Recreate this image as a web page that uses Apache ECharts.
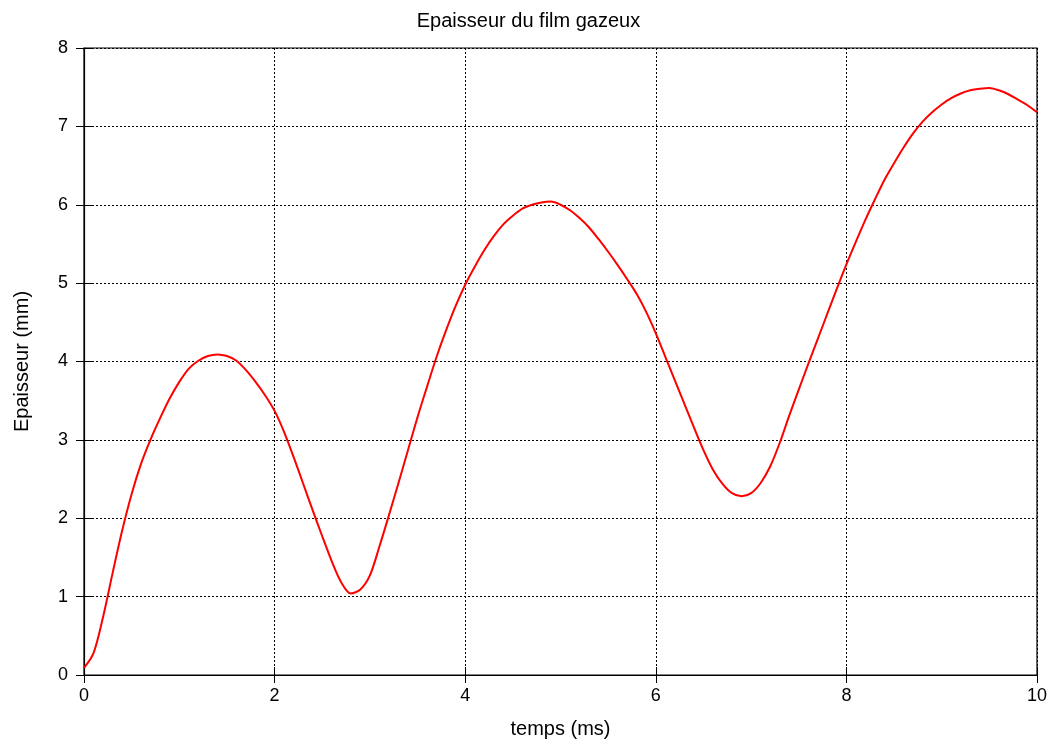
<!DOCTYPE html>
<html>
<head>
<meta charset="utf-8">
<script src="https://cdn.jsdelivr.net/npm/echarts@6/dist/echarts.min.js"></script>
<style>html,body{margin:0;padding:0;background:#fff;}#c{width:1057px;height:744px;}</style>
</head>
<body>
<div id="c"></div>
<script>
const title = "Epaisseur du film gazeux";
const xName = "temps (ms)";
const yName = "Epaisseur (mm)";
const xTicks = [0, 2, 4, 6, 8, 10];
const yTicks = [0, 1, 2, 3, 4, 5, 6, 7, 8];
const tValues = [0.0, 0.1, 0.2, 0.3, 0.4, 0.5, 0.6, 0.7, 0.8, 0.9,
  1.0, 1.1, 1.2, 1.3, 1.4, 1.5, 1.6, 1.7, 1.8, 1.9,
  2.0, 2.1, 2.2, 2.3, 2.4, 2.5, 2.6, 2.7, 2.8, 2.9,
  3.0, 3.1, 3.2, 3.3, 3.4, 3.5, 3.6, 3.7, 3.8, 3.9,
  4.0, 4.1, 4.2, 4.3, 4.4, 4.5, 4.6, 4.7, 4.8, 4.9,
  5.0, 5.1, 5.2, 5.3, 5.4, 5.5, 5.6, 5.7, 5.8, 5.9,
  6.0, 6.1, 6.2, 6.3, 6.4, 6.5, 6.6, 6.7, 6.8, 6.9,
  7.0, 7.1, 7.2, 7.3, 7.4, 7.5, 7.6, 7.7, 7.8, 7.9,
  8.0, 8.1, 8.2, 8.3, 8.4, 8.5, 8.6, 8.7, 8.8, 8.9,
  9.0, 9.1, 9.2, 9.3, 9.4, 9.5, 9.6, 9.7, 9.8, 9.9, 10.0];
const thickness = [0.09, 0.28, 0.74, 1.30, 1.84, 2.31, 2.70, 3.01, 3.28, 3.53,
  3.74, 3.91, 4.01, 4.07, 4.09, 4.07, 4.01, 3.89, 3.74, 3.57,
  3.37, 3.10, 2.78, 2.44, 2.10, 1.77, 1.45, 1.18, 1.04, 1.09,
  1.27, 1.64, 2.04, 2.45, 2.87, 3.29, 3.68, 4.06, 4.40, 4.71,
  4.98, 5.21, 5.42, 5.60, 5.75, 5.86, 5.95, 6.00, 6.03, 6.04,
  6.00, 5.93, 5.83, 5.71, 5.56, 5.40, 5.23, 5.05, 4.86, 4.63,
  4.36, 4.06, 3.76, 3.46, 3.16, 2.87, 2.62, 2.44, 2.32, 2.28,
  2.32, 2.45, 2.66, 2.96, 3.31, 3.64, 3.97, 4.29, 4.61, 4.93,
  5.24, 5.53, 5.81, 6.07, 6.32, 6.53, 6.73, 6.91, 7.06, 7.18,
  7.28, 7.36, 7.42, 7.46, 7.48, 7.49, 7.46, 7.41, 7.34, 7.27, 7.18];

const font = "'Liberation Sans', Arial, sans-serif";
const gridLine = {show: true, lineStyle: {color: '#000', width: 1, type: [2, 2]}};
const chart = echarts.init(document.getElementById('c'), null, {renderer: 'canvas'});
chart.setOption({
  animation: false,
  backgroundColor: '#fff',
  title: {text: title, left: 'center', top: 6, textStyle: {fontFamily: font, fontWeight: 'normal', fontSize: 20, color: '#000'}},
  grid: {left: 84, right: 20, top: 48, bottom: 65, show: true, borderColor: '#000', borderWidth: 1.2},
  xAxis: [{
    type: 'value', min: xTicks[0], max: xTicks[xTicks.length - 1], interval: 2,
    name: xName, nameLocation: 'middle', nameGap: 44,
    nameTextStyle: {fontFamily: font, fontSize: 20, color: '#000'},
    axisLine: {show: true, lineStyle: {color: '#000', width: 1.2}},
    axisTick: {show: true, inside: true, length: 8, lineStyle: {color: '#000'}},
    axisLabel: {fontFamily: font, fontSize: 18, color: '#000', margin: 12},
    splitLine: gridLine
  }, {
    type: 'value', position: 'top', min: xTicks[0], max: xTicks[xTicks.length - 1], interval: 2,
    axisLine: {show: false}, axisTick: {show: true, inside: true, length: 8, lineStyle: {color: '#000'}},
    axisLabel: {show: false}, splitLine: {show: false}
  }],
  yAxis: [{
    type: 'value', min: yTicks[0], max: yTicks[yTicks.length - 1], interval: 1,
    name: yName, nameLocation: 'middle', nameGap: 52, nameRotate: 90,
    nameTextStyle: {fontFamily: font, fontSize: 20, color: '#000'},
    axisLine: {show: true, lineStyle: {color: '#000', width: 1.2}},
    axisTick: {show: true, inside: true, length: 8, lineStyle: {color: '#000'}},
    axisLabel: {fontFamily: font, fontSize: 18, color: '#000', margin: 16},
    splitLine: gridLine
  }, {
    type: 'value', position: 'right', min: yTicks[0], max: yTicks[yTicks.length - 1], interval: 1,
    axisLine: {show: false}, axisTick: {show: true, inside: true, length: 8, lineStyle: {color: '#000'}},
    axisLabel: {show: false}, splitLine: {show: false}
  }],
  series: [{
    type: 'line', xAxisIndex: 0, yAxisIndex: 0,
    data: tValues.map((t, i) => [t, thickness[i]]),
    smooth: 0.3, showSymbol: false,
    lineStyle: {color: '#ff0000', width: 2}
  }]
});
</script>
</body>
</html>
